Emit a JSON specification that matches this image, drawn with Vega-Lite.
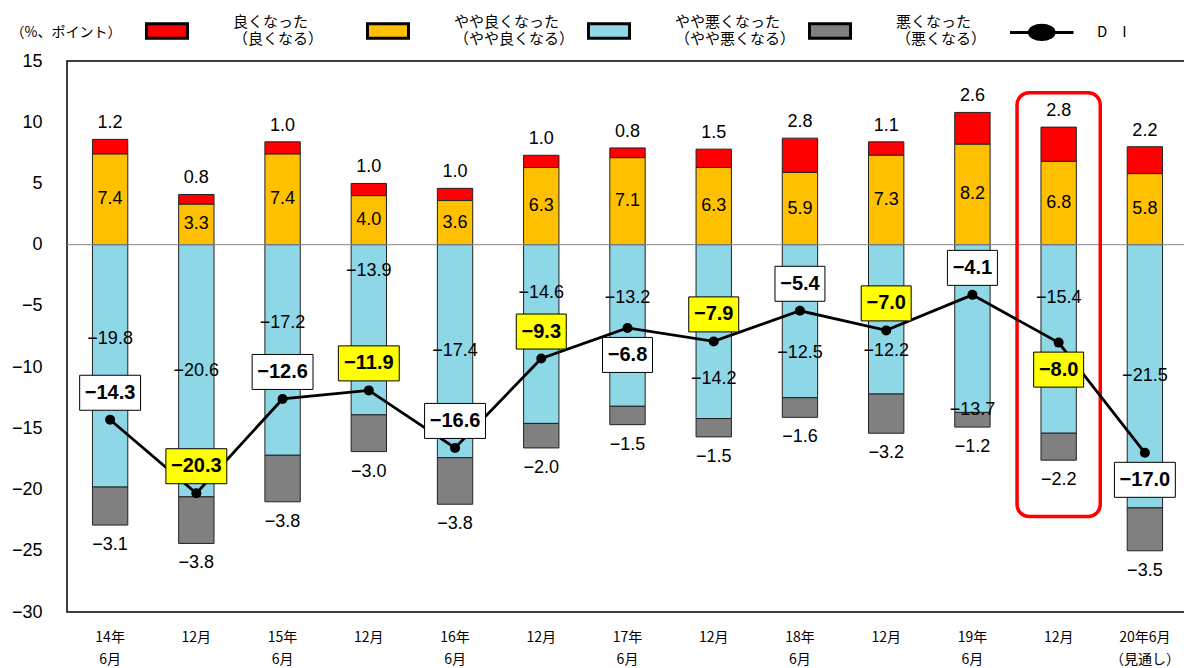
{
  "$schema": "https://vega.github.io/schema/vega-lite/v6.json",
  "width": 1121,
  "height": 551,
  "autosize": {"type": "none"},
  "padding": {"left": 67, "top": 61, "right": -4, "bottom": 56},
  "background": "white",
  "config": {
    "view": {"stroke": "#000", "strokeWidth": 1.5},
    "axis": {"grid": false, "ticks": false, "domain": false},
    "font": "Liberation Sans"
  },
  "datasets": {
    "bars": [
      {"period": "14-06", "cat": "良くなった", "value": 1.2},
      {"period": "14-06", "cat": "やや良くなった", "value": 7.4},
      {"period": "14-06", "cat": "やや悪くなった", "value": -19.8},
      {"period": "14-06", "cat": "悪くなった", "value": -3.1},
      {"period": "14-12", "cat": "良くなった", "value": 0.8},
      {"period": "14-12", "cat": "やや良くなった", "value": 3.3},
      {"period": "14-12", "cat": "やや悪くなった", "value": -20.6},
      {"period": "14-12", "cat": "悪くなった", "value": -3.8},
      {"period": "15-06", "cat": "良くなった", "value": 1.0},
      {"period": "15-06", "cat": "やや良くなった", "value": 7.4},
      {"period": "15-06", "cat": "やや悪くなった", "value": -17.2},
      {"period": "15-06", "cat": "悪くなった", "value": -3.8},
      {"period": "15-12", "cat": "良くなった", "value": 1.0},
      {"period": "15-12", "cat": "やや良くなった", "value": 4.0},
      {"period": "15-12", "cat": "やや悪くなった", "value": -13.9},
      {"period": "15-12", "cat": "悪くなった", "value": -3.0},
      {"period": "16-06", "cat": "良くなった", "value": 1.0},
      {"period": "16-06", "cat": "やや良くなった", "value": 3.6},
      {"period": "16-06", "cat": "やや悪くなった", "value": -17.4},
      {"period": "16-06", "cat": "悪くなった", "value": -3.8},
      {"period": "16-12", "cat": "良くなった", "value": 1.0},
      {"period": "16-12", "cat": "やや良くなった", "value": 6.3},
      {"period": "16-12", "cat": "やや悪くなった", "value": -14.6},
      {"period": "16-12", "cat": "悪くなった", "value": -2.0},
      {"period": "17-06", "cat": "良くなった", "value": 0.8},
      {"period": "17-06", "cat": "やや良くなった", "value": 7.1},
      {"period": "17-06", "cat": "やや悪くなった", "value": -13.2},
      {"period": "17-06", "cat": "悪くなった", "value": -1.5},
      {"period": "17-12", "cat": "良くなった", "value": 1.5},
      {"period": "17-12", "cat": "やや良くなった", "value": 6.3},
      {"period": "17-12", "cat": "やや悪くなった", "value": -14.2},
      {"period": "17-12", "cat": "悪くなった", "value": -1.5},
      {"period": "18-06", "cat": "良くなった", "value": 2.8},
      {"period": "18-06", "cat": "やや良くなった", "value": 5.9},
      {"period": "18-06", "cat": "やや悪くなった", "value": -12.5},
      {"period": "18-06", "cat": "悪くなった", "value": -1.6},
      {"period": "18-12", "cat": "良くなった", "value": 1.1},
      {"period": "18-12", "cat": "やや良くなった", "value": 7.3},
      {"period": "18-12", "cat": "やや悪くなった", "value": -12.2},
      {"period": "18-12", "cat": "悪くなった", "value": -3.2},
      {"period": "19-06", "cat": "良くなった", "value": 2.6},
      {"period": "19-06", "cat": "やや良くなった", "value": 8.2},
      {"period": "19-06", "cat": "やや悪くなった", "value": -13.7},
      {"period": "19-06", "cat": "悪くなった", "value": -1.2},
      {"period": "19-12", "cat": "良くなった", "value": 2.8},
      {"period": "19-12", "cat": "やや良くなった", "value": 6.8},
      {"period": "19-12", "cat": "やや悪くなった", "value": -15.4},
      {"period": "19-12", "cat": "悪くなった", "value": -2.2},
      {"period": "20-06", "cat": "良くなった", "value": 2.2},
      {"period": "20-06", "cat": "やや良くなった", "value": 5.8},
      {"period": "20-06", "cat": "やや悪くなった", "value": -21.5},
      {"period": "20-06", "cat": "悪くなった", "value": -3.5}
    ],
    "di": [
      {"period": "14-06", "DI": -14.3},
      {"period": "14-12", "DI": -20.3},
      {"period": "15-06", "DI": -12.6},
      {"period": "15-12", "DI": -11.9},
      {"period": "16-06", "DI": -16.6},
      {"period": "16-12", "DI": -9.3},
      {"period": "17-06", "DI": -6.8},
      {"period": "17-12", "DI": -7.9},
      {"period": "18-06", "DI": -5.4},
      {"period": "18-12", "DI": -7.0},
      {"period": "19-06", "DI": -4.1},
      {"period": "19-12", "DI": -8.0},
      {"period": "20-06", "DI": -17.0}
    ]
  },
  "layer": [
    {
      "data": {"name": "bars"},
      "transform": [
        {"calculate": "indexof(['やや良くなった','良くなった','やや悪くなった','悪くなった'], datum.cat)", "as": "ord"},
        {"stack": "value", "groupby": ["period"], "sort": [{"field": "ord", "order": "ascending"}], "as": ["v0", "v1"]}
      ],
      "mark": {"type": "bar", "width": {"band": 0.41}, "stroke": "#222", "strokeWidth": 1},
      "encoding": {
        "x": {"field": "period", "type": "nominal", "title": null,
          "scale": {"paddingInner": 0, "paddingOuter": 0},
          "axis": {"labelAngle": 0, "labelFont": "Noto Sans CJK JP", "labelFontSize": 14, "labelLineHeight": 22, "labelPadding": 18, "labelBaseline": "top", "labelColor": "#000",
            "labelExpr": "datum.value == '20-06' ? ['20年6月', '（見通し）'] : (slice(datum.value, 3) == '06' ? [slice(datum.value, 0, 2) + '年', '6月'] : '12月')"}},
        "y": {"field": "v0", "type": "quantitative", "title": "（%、ポイント）",
          "scale": {"domain": [-30, 15], "nice": false, "zero": false},
          "axis": {"values": [-30, -25, -20, -15, -10, -5, 0, 5, 10, 15], "format": "d", "labelFontSize": 18, "labelColor": "#000", "labelPadding": 25,
            "titleAngle": 0, "titleAlign": "left", "titleBaseline": "middle", "titleX": -57, "titleY": -29, "titleFont": "Noto Sans CJK JP", "titleFontSize": 14, "titleFontWeight": "normal", "titleColor": "#000"}},
        "y2": {"field": "v1"},
        "color": {"field": "cat", "type": "nominal",
          "scale": {"domain": ["良くなった", "やや良くなった", "やや悪くなった", "悪くなった", "DI"], "range": ["#FF0000", "#FFC000", "#8DD7E7", "#808080", "#000000"]},
          "legend": {
            "orient": "none", "legendX": 78, "legendY": -52, "direction": "horizontal", "columns": 5, "gridAlign": "all", "columnPadding": -13, "padding": 0, "title": null,
            "symbolType": "M-1,-0.35H1V0.35H-1Z", "symbolSize": 1681, "symbolStrokeColor": "#000", "symbolStrokeWidth": 3, "symbolOpacity": 1,
            "labelFont": "Noto Sans CJK JP", "labelFontSize": 15, "labelLineHeight": 17, "labelOffset": 44, "labelColor": "#000", "labelLimit": 220,
            "labelExpr": "datum.label == 'DI' ? 'D　I' : [datum.label, '（' + replace(datum.label, 'った', 'る') + '）']",
            "encode": {
              "symbols": {"update": {"shape": {"signal": "datum.value == 'DI' ? 'M-2,0H1.1M-1.05,0A0.6,0.35 0 1,0 0.15,0A0.6,0.35 0 1,0 -1.05,0Z' : 'M-1,-0.35H1V0.35H-1Z'"}, "stroke": {"value": "#000"}, "strokeWidth": {"value": 3}}},
              "labels": {"update": {"dy": {"signal": "datum.value == 'DI' ? 0 : -9"}, "dx": {"signal": "datum.value == 'DI' ? -20 : 0"}}}
            }
          }}
      }
    },
    {
      "data": {"values": [{}]},
      "mark": {"type": "rule", "color": "#888", "strokeWidth": 1},
      "encoding": {"y": {"datum": 0, "type": "quantitative", "title": "（%、ポイント）"}}
    },
    {
      "data": {"values": [{}]},
      "mark": {"type": "bar", "width": {"band": 0.965}, "cornerRadius": 12, "fill": "transparent", "stroke": "#FF0000", "strokeWidth": 3.5},
      "encoding": {
        "x": {"datum": "19-12", "type": "nominal", "title": null},
        "y": {"datum": 12.4, "type": "quantitative", "title": "（%、ポイント）"},
        "y2": {"datum": -22.2}
      }
    },
    {
      "data": {"name": "bars"},
      "transform": [
        {"calculate": "indexof(['やや良くなった','良くなった','やや悪くなった','悪くなった'], datum.cat)", "as": "ord"},
        {"stack": "value", "groupby": ["period"], "sort": [{"field": "ord", "order": "ascending"}], "as": ["v0", "v1"]},
        {"filter": "datum.cat == '良くなった'"}
      ],
      "mark": {"type": "text", "fontSize": 18, "yOffset": -16, "baseline": "middle", "color": "#000"},
      "encoding": {
        "x": {"field": "period", "type": "nominal", "title": null},
        "y": {"field": "v1", "type": "quantitative", "title": "（%、ポイント）"},
        "text": {"field": "value", "format": ".1f"}
      }
    },
    {
      "data": {"name": "bars"},
      "transform": [
        {"calculate": "indexof(['やや良くなった','良くなった','やや悪くなった','悪くなった'], datum.cat)", "as": "ord"},
        {"stack": "value", "groupby": ["period"], "sort": [{"field": "ord", "order": "ascending"}], "as": ["v0", "v1"]},
        {"calculate": "(datum.v0 + datum.v1) / 2", "as": "mid"},
        {"filter": "datum.cat == 'やや良くなった'"}
      ],
      "mark": {"type": "text", "fontSize": 18, "baseline": "middle", "color": "#000"},
      "encoding": {
        "x": {"field": "period", "type": "nominal", "title": null},
        "y": {"field": "mid", "type": "quantitative", "title": "（%、ポイント）"},
        "text": {"field": "value", "format": ".1f"}
      }
    },
    {
      "data": {"name": "bars"},
      "transform": [
        {"calculate": "indexof(['やや良くなった','良くなった','やや悪くなった','悪くなった'], datum.cat)", "as": "ord"},
        {"stack": "value", "groupby": ["period"], "sort": [{"field": "ord", "order": "ascending"}], "as": ["v0", "v1"]},
        {"filter": "datum.cat == '悪くなった'"}
      ],
      "mark": {"type": "text", "fontSize": 18, "yOffset": 20, "baseline": "middle", "color": "#000"},
      "encoding": {
        "x": {"field": "period", "type": "nominal", "title": null},
        "y": {"field": "v1", "type": "quantitative", "title": "（%、ポイント）"},
        "text": {"field": "value", "format": ".1f"}
      }
    },
    {
      "data": {"name": "bars"},
      "transform": [
        {"filter": "datum.cat == 'やや悪くなった' && indexof(['14-06','15-06','17-06'], datum.period) >= 0"},
        {"calculate": "datum.value / 2", "as": "mid"}
      ],
      "mark": {"type": "text", "fontSize": 18, "yOffset": -27, "baseline": "middle", "color": "#000"},
      "encoding": {
        "x": {"field": "period", "type": "nominal", "title": null},
        "y": {"field": "mid", "type": "quantitative", "title": "（%、ポイント）"},
        "text": {"field": "value", "format": ".1f"}
      }
    },
    {
      "data": {"name": "bars"},
      "transform": [
        {"filter": "datum.cat == 'やや悪くなった' && indexof(['16-12','19-12'], datum.period) >= 0"},
        {"calculate": "datum.value / 2", "as": "mid"}
      ],
      "mark": {"type": "text", "fontSize": 18, "yOffset": -41, "baseline": "middle", "color": "#000"},
      "encoding": {
        "x": {"field": "period", "type": "nominal", "title": null},
        "y": {"field": "mid", "type": "quantitative", "title": "（%、ポイント）"},
        "text": {"field": "value", "format": ".1f"}
      }
    },
    {
      "data": {"name": "bars"},
      "transform": [
        {"filter": "datum.cat == 'やや悪くなった' && datum.period == '15-12'"},
        {"calculate": "datum.value / 2", "as": "mid"}
      ],
      "mark": {"type": "text", "fontSize": 18, "yOffset": -59, "baseline": "middle", "color": "#000"},
      "encoding": {
        "x": {"field": "period", "type": "nominal", "title": null},
        "y": {"field": "mid", "type": "quantitative", "title": "（%、ポイント）"},
        "text": {"field": "value", "format": ".1f"}
      }
    },
    {
      "data": {"name": "bars"},
      "transform": [
        {"filter": "datum.cat == 'やや悪くなった' && indexof(['14-12','16-06','20-06'], datum.period) >= 0"},
        {"calculate": "datum.value / 2", "as": "mid"}
      ],
      "mark": {"type": "text", "fontSize": 18, "baseline": "middle", "color": "#000"},
      "encoding": {
        "x": {"field": "period", "type": "nominal", "title": null},
        "y": {"field": "mid", "type": "quantitative", "title": "（%、ポイント）"},
        "text": {"field": "value", "format": ".1f"}
      }
    },
    {
      "data": {"name": "bars"},
      "transform": [
        {"filter": "datum.cat == 'やや悪くなった' && indexof(['18-06','18-12'], datum.period) >= 0"},
        {"calculate": "datum.value / 2", "as": "mid"}
      ],
      "mark": {"type": "text", "fontSize": 18, "yOffset": 32, "baseline": "middle", "color": "#000"},
      "encoding": {
        "x": {"field": "period", "type": "nominal", "title": null},
        "y": {"field": "mid", "type": "quantitative", "title": "（%、ポイント）"},
        "text": {"field": "value", "format": ".1f"}
      }
    },
    {
      "data": {"name": "bars"},
      "transform": [
        {"filter": "datum.cat == 'やや悪くなった' && datum.period == '17-12'"},
        {"calculate": "datum.value / 2", "as": "mid"}
      ],
      "mark": {"type": "text", "fontSize": 18, "yOffset": 47, "baseline": "middle", "color": "#000"},
      "encoding": {
        "x": {"field": "period", "type": "nominal", "title": null},
        "y": {"field": "mid", "type": "quantitative", "title": "（%、ポイント）"},
        "text": {"field": "value", "format": ".1f"}
      }
    },
    {
      "data": {"name": "bars"},
      "transform": [
        {"filter": "datum.cat == 'やや悪くなった' && datum.period == '19-06'"},
        {"calculate": "datum.value / 2", "as": "mid"}
      ],
      "mark": {"type": "text", "fontSize": 18, "yOffset": 81, "baseline": "middle", "color": "#000"},
      "encoding": {
        "x": {"field": "period", "type": "nominal", "title": null},
        "y": {"field": "mid", "type": "quantitative", "title": "（%、ポイント）"},
        "text": {"field": "value", "format": ".1f"}
      }
    },
    {
      "data": {"name": "di"},
      "mark": {"type": "line", "color": "#000", "strokeWidth": 2.8, "point": {"filled": true, "size": 100, "color": "#000", "opacity": 1}},
      "encoding": {
        "x": {"field": "period", "type": "nominal", "title": null},
        "y": {"field": "DI", "type": "quantitative", "title": "（%、ポイント）"}
      }
    },
    {
      "data": {"name": "di"},
      "transform": [{"filter": "indexof(['17-06','19-12','20-06'], datum.period) < 0"}],
      "layer": [
        {
          "mark": {"type": "point", "filled": true, "size": 4900, "stroke": "#000", "strokeWidth": 1, "opacity": 1, "yOffset": -27},
          "encoding": {
            "x": {"field": "period", "type": "nominal", "title": null},
            "y": {"field": "DI", "type": "quantitative", "title": "（%、ポイント）"},
            "fill": {"condition": {"test": "slice(datum.period, 3) == '12'", "value": "#FFFF00"}, "value": "#FFFFFF"},
            "shape": {"condition": {"test": "abs(datum.DI) >= 10", "value": "M-0.87,-0.5H0.87V0.5H-0.87Z"}, "value": "M-0.714,-0.5H0.714V0.5H-0.714Z"}
          }
        },
        {
          "mark": {"type": "text", "fontSize": 20, "fontWeight": "bold", "yOffset": -27, "baseline": "middle", "color": "#000"},
          "encoding": {
            "x": {"field": "period", "type": "nominal", "title": null},
            "y": {"field": "DI", "type": "quantitative", "title": "（%、ポイント）"},
            "text": {"field": "DI", "format": ".1f"}
          }
        }
      ]
    },
    {
      "data": {"name": "di"},
      "transform": [{"filter": "indexof(['17-06','19-12','20-06'], datum.period) >= 0"}],
      "layer": [
        {
          "mark": {"type": "point", "filled": true, "size": 4900, "stroke": "#000", "strokeWidth": 1, "opacity": 1, "yOffset": 27},
          "encoding": {
            "x": {"field": "period", "type": "nominal", "title": null},
            "y": {"field": "DI", "type": "quantitative", "title": "（%、ポイント）"},
            "fill": {"condition": {"test": "slice(datum.period, 3) == '12'", "value": "#FFFF00"}, "value": "#FFFFFF"},
            "shape": {"condition": {"test": "abs(datum.DI) >= 10", "value": "M-0.87,-0.5H0.87V0.5H-0.87Z"}, "value": "M-0.714,-0.5H0.714V0.5H-0.714Z"}
          }
        },
        {
          "mark": {"type": "text", "fontSize": 20, "fontWeight": "bold", "yOffset": 27, "baseline": "middle", "color": "#000"},
          "encoding": {
            "x": {"field": "period", "type": "nominal", "title": null},
            "y": {"field": "DI", "type": "quantitative", "title": "（%、ポイント）"},
            "text": {"field": "DI", "format": ".1f"}
          }
        }
      ]
    }
  ]
}
